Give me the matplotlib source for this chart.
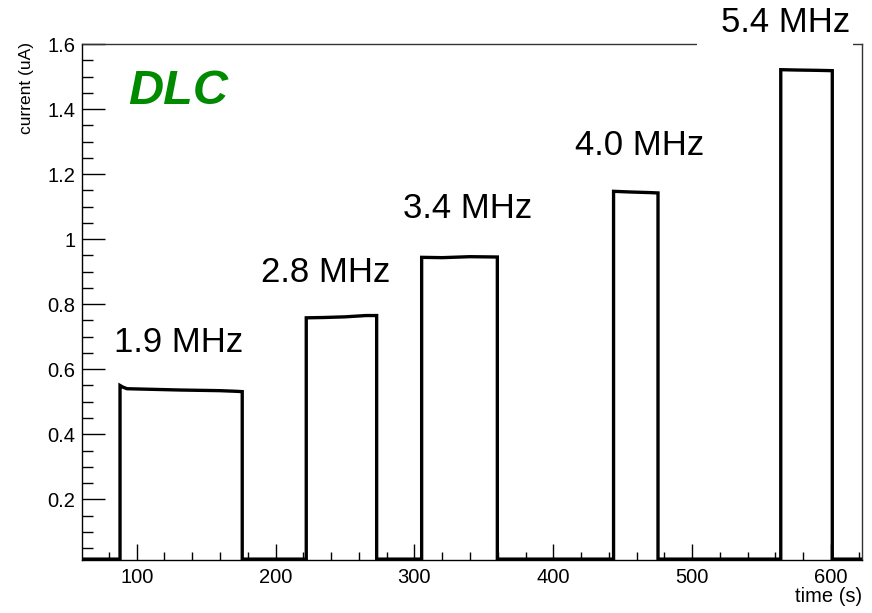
import matplotlib
matplotlib.use("Agg")
import matplotlib.pyplot as plt
from matplotlib.ticker import MultipleLocator
from matplotlib.patches import Rectangle

# ---- data ----
baseline = 0.016
t_rise = [88.0, 222.1, 305.2, 443.4, 563.8]
t_fall = [176.0, 272.8, 359.7, 475.4, 600.9]
# plateau samples (time, current) for each pulse
plateau_t = [
    [88.0, 90.0, 93.0, 131.2, 160.0, 172.0, 176.0],
    [222.1, 235.0, 250.0, 265.0, 272.8],
    [305.2, 320.0, 340.0, 359.7],
    [443.4, 455.0, 470.0, 475.4],
    [563.8, 575.0, 590.0, 600.9],
]
plateau_v = [
    [0.550, 0.545, 0.540, 0.536, 0.534, 0.532, 0.531],
    [0.758, 0.759, 0.761, 0.765, 0.765],
    [0.944, 0.943, 0.946, 0.945],
    [1.147, 1.145, 1.143, 1.142],
    [1.521, 1.520, 1.519, 1.518],
]
labels = ["1.9 MHz", "2.8 MHz", "3.4 MHz", "4.0 MHz", "5.4 MHz"]
label_x = [179, 326, 468, 640, 786]      # pixel centres
label_y = [343, 273, 209, 145.5, 22.5]
t_start, t_end = 50.0, 630.0

W, H = 872, 613
fig = plt.figure(figsize=(W / 100, H / 100), dpi=100)
ax = fig.add_axes([81.7 / W, 1 - 560 / H, (862 - 81.7) / W, (560 - 44) / H])

# build the step trace
ts = [t_start]
vs = [baseline]
for r, f, pt, pv in zip(t_rise, t_fall, plateau_t, plateau_v):
    ts += [r] + pt + [f]
    vs += [baseline] + pv + [baseline]
ts.append(t_end)
vs.append(baseline)
ax.plot(ts, vs, color="black", lw=2.4, solid_joinstyle="miter", zorder=3)

ax.set_xlim(60.4, 622.3)
ax.set_ylim(0.0133, 1.6)

ax.xaxis.set_major_locator(MultipleLocator(100))
ax.xaxis.set_minor_locator(MultipleLocator(20))
ax.yaxis.set_major_locator(MultipleLocator(0.2))
ax.yaxis.set_minor_locator(MultipleLocator(0.05))

def yfmt(v, pos):
    s = ("%.1f" % v)
    if abs(v - round(v)) < 1e-9:
        s = "%d" % round(v)
    return s
ax.yaxis.set_major_formatter(plt.FuncFormatter(yfmt))

font = "Liberation Sans"
ax.tick_params(axis="both", which="both", direction="in", top=False, right=False,
               colors="black", width=1.0)
ax.tick_params(axis="x", which="major", length=11.5, pad=5.5, labelsize=14.5)
ax.tick_params(axis="x", which="minor", length=5.8)
ax.tick_params(axis="y", which="major", length=16.6, pad=4.5, labelsize=14.5)
ax.tick_params(axis="y", which="minor", length=8)
for lab in ax.get_xticklabels() + ax.get_yticklabels():
    lab.set_fontfamily(font)

for s in ["left", "bottom"]:
    ax.spines[s].set_color("black")
    ax.spines[s].set_linewidth(1.0)
for s in ["top", "right"]:
    ax.spines[s].set_color("#333333")
    ax.spines[s].set_linewidth(1.0)

# axis titles
fig.text(862 / W, 1 - 597 / H, "time (s)", ha="right", va="center",
         fontsize=14.5, family=font)
fig.text(27 / W, 1 - 42 / H, "current (uA)", ha="center", va="top",
         rotation=90, fontsize=12.5, family=font)

# DLC tag
fig.text(178 / W, 1 - 91 / H, "DLC", ha="center", va="center", fontsize=35,
         family=font, fontweight="bold", fontstyle="italic", color="#008a00")

# white box behind the top label, interrupting the frame
fig.patches.append(Rectangle((697 / W, 1 - 48 / H), (853 - 697) / W, 48 / H,
                             transform=fig.transFigure, facecolor="white",
                             edgecolor="none", zorder=4))

# frequency labels
for txt, px, py in zip(labels, label_x, label_y):
    fig.text(px / W, 1 - py / H, txt, ha="center", va="center", fontsize=25,
             family=font, color="black", zorder=5)

fig.savefig("out.png", dpi=100)
